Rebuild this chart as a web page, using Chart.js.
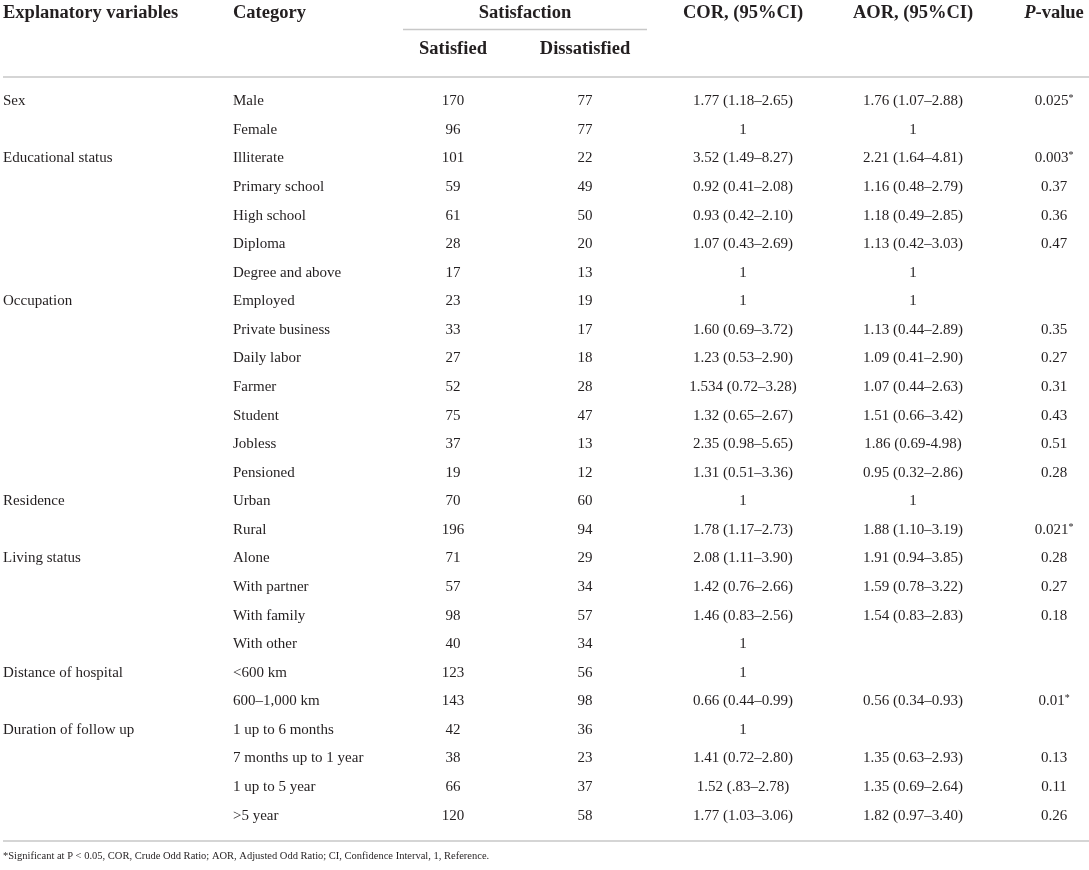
<!DOCTYPE html>
<html>
<head>
<meta charset="utf-8">
<script src="https://cdn.jsdelivr.net/npm/chart.js@4.4.0/dist/chart.umd.min.js"></script>
<style>
  html, body { margin: 0; padding: 0; background: #fff; }
  #wrap { width: 1089px; height: 870px; }
</style>
</head>
<body>
<div id="wrap"><canvas id="table"></canvas></div>
<script>
// table contents
const variableGroups = [
  ['Sex', 2],
  ['Educational status', 5],
  ['Occupation', 7],
  ['Residence', 2],
  ['Living status', 4],
  ['Distance of hospital', 2],
  ['Duration of follow up', 4]
];
const categories = [
  'Male', 'Female',
  'Illiterate', 'Primary school', 'High school', 'Diploma', 'Degree and above',
  'Employed', 'Private business', 'Daily labor', 'Farmer', 'Student', 'Jobless', 'Pensioned',
  'Urban', 'Rural',
  'Alone', 'With partner', 'With family', 'With other',
  '<600 km', '600\u20131,000 km',
  '1 up to 6 months', '7 months up to 1 year', '1 up to 5 year', '>5 year'
];
const satisfied = [170, 96, 101, 59, 61, 28, 17, 23, 33, 27, 52, 75, 37, 19, 70, 196, 71, 57, 98, 40, 123, 143, 42, 38, 66, 120];
const dissatisfied = [77, 77, 22, 49, 50, 20, 13, 19, 17, 18, 28, 47, 13, 12, 60, 94, 29, 34, 57, 34, 56, 98, 36, 23, 37, 58];
const cor = [
  '1.77 (1.18\u20132.65)', '1',
  '3.52 (1.49\u20138.27)', '0.92 (0.41\u20132.08)', '0.93 (0.42\u20132.10)', '1.07 (0.43\u20132.69)', '1',
  '1', '1.60 (0.69\u20133.72)', '1.23 (0.53\u20132.90)', '1.534 (0.72\u20133.28)', '1.32 (0.65\u20132.67)', '2.35 (0.98\u20135.65)', '1.31 (0.51\u20133.36)',
  '1', '1.78 (1.17\u20132.73)',
  '2.08 (1.11\u20133.90)', '1.42 (0.76\u20132.66)', '1.46 (0.83\u20132.56)', '1',
  '1', '0.66 (0.44\u20130.99)',
  '1', '1.41 (0.72\u20132.80)', '1.52 (.83\u20132.78)', '1.77 (1.03\u20133.06)'
];
const aor = [
  '1.76 (1.07\u20132.88)', '1',
  '2.21 (1.64\u20134.81)', '1.16 (0.48\u20132.79)', '1.18 (0.49\u20132.85)', '1.13 (0.42\u20133.03)', '1',
  '1', '1.13 (0.44\u20132.89)', '1.09 (0.41\u20132.90)', '1.07 (0.44\u20132.63)', '1.51 (0.66\u20133.42)', '1.86 (0.69-4.98)', '0.95 (0.32\u20132.86)',
  '1', '1.88 (1.10\u20133.19)',
  '1.91 (0.94\u20133.85)', '1.59 (0.78\u20133.22)', '1.54 (0.83\u20132.83)', '',
  '', '0.56 (0.34\u20130.93)',
  '', '1.35 (0.63\u20132.93)', '1.35 (0.69\u20132.64)', '1.82 (0.97\u20133.40)'
];
const pValues = [
  '0.025*', '',
  '0.003*', '0.37', '0.36', '0.47', '',
  '', '0.35', '0.27', '0.31', '0.43', '0.51', '0.28',
  '', '0.021*',
  '0.28', '0.27', '0.18', '',
  '', '0.01*',
  '', '0.13', '0.11', '0.26'
];
const footnote = '*Significant at P < 0.05, COR, Crude Odd Ratio; AOR, Adjusted Odd Ratio; CI, Confidence Interval, 1, Reference.';

// layout (x anchors in the linear x scale, 0..1089)
const SERIF = '"Liberation Serif", "DejaVu Serif", serif';
const INK = '#231f20';
const RULE = '#c8c8c8';
const BODY = '15px ' + SERIF;
const HEAD = 'bold 18.5px ' + SERIF;
const col = { variable: 3, category: 233, sat: 453, dis: 585, cor: 743, aor: 913, p: 1054 };

const variableLabels = [];
variableGroups.forEach(([name, n]) => {
  for (let i = 0; i < n; i++) variableLabels.push(i === 0 ? name : '');
});

function rowPoints(x) {
  return categories.map(c => ({ x: x, y: c }));
}

const columns = [
  { key: 'variable', text: variableLabels, align: 'left' },
  { key: 'category', text: categories, align: 'left' },
  { key: 'sat', text: satisfied.map(String), align: 'center' },
  { key: 'dis', text: dissatisfied.map(String), align: 'center' },
  { key: 'cor', text: cor, align: 'center' },
  { key: 'aor', text: aor, align: 'center' },
  { key: 'p', text: pValues, align: 'center' }
];

// draws the cell text at each point position given by the scales
const cellText = {
  id: 'cellText',
  afterDatasetsDraw(chart) {
    const ctx = chart.ctx;
    ctx.save();
    ctx.fillStyle = INK;
    ctx.textBaseline = 'middle';
    chart.data.datasets.forEach((ds, di) => {
      const meta = chart.getDatasetMeta(di);
      meta.data.forEach((pt, i) => {
        let s = ds.text[i];
        if (!s) return;
        ctx.font = BODY;
        ctx.textAlign = ds.align;
        if (s.endsWith('*')) {
          // significance star set as a small superscript
          s = s.slice(0, -1);
          const w = ctx.measureText(s).width;
          const x0 = pt.x - (w + 5) / 2;
          ctx.textAlign = 'left';
          ctx.fillText(s, x0, pt.y);
          ctx.font = '10px ' + SERIF;
          ctx.fillText('*', x0 + w, pt.y - 3);
        } else {
          ctx.fillText(s, pt.x, pt.y);
        }
      });
    });
    ctx.restore();
  }
};

// header, rules and footnote around the chart area
const frame = {
  id: 'frame',
  afterDraw(chart) {
    const ctx = chart.ctx;
    const x = chart.scales.x;
    const area = chart.chartArea;
    ctx.save();
    ctx.fillStyle = INK;
    ctx.textBaseline = 'middle';
    ctx.font = HEAD;
    ctx.textAlign = 'left';
    ctx.fillText('Explanatory variables', x.getPixelForValue(col.variable), 13);
    ctx.fillText('Category', x.getPixelForValue(col.category), 13);
    ctx.textAlign = 'center';
    ctx.fillText('Satisfaction', x.getPixelForValue(525), 13);
    ctx.fillText('Satisfied', x.getPixelForValue(col.sat), 49);
    ctx.fillText('Dissatisfied', x.getPixelForValue(col.dis), 49);
    ctx.fillText('COR, (95%CI)', x.getPixelForValue(col.cor), 13);
    ctx.fillText('AOR, (95%CI)', x.getPixelForValue(col.aor), 13);
    // P-value with italic P
    ctx.font = 'italic ' + HEAD;
    const wP = ctx.measureText('P').width;
    ctx.font = HEAD;
    const wRest = ctx.measureText('-value').width;
    const px = Math.min(x.getPixelForValue(col.p) - (wP + wRest) / 2, 1087 - wP - wRest);
    ctx.textAlign = 'left';
    ctx.font = 'italic ' + HEAD;
    ctx.fillText('P', px, 13);
    ctx.font = HEAD;
    ctx.fillText('-value', px + wP, 13);

    ctx.strokeStyle = RULE;
    ctx.lineWidth = 1.5;
    ctx.beginPath();
    ctx.moveTo(x.getPixelForValue(403), 29.5);
    ctx.lineTo(x.getPixelForValue(647), 29.5);
    ctx.moveTo(3, 77);
    ctx.lineTo(1089, 77);
    ctx.moveTo(3, area.bottom + 11);
    ctx.lineTo(1089, area.bottom + 11);
    ctx.stroke();

    ctx.font = '10.5px ' + SERIF;
    ctx.textAlign = 'left';
    ctx.fillText(footnote, 3, area.bottom + 26);
    ctx.restore();
  }
};

new Chart(document.getElementById('table'), {
  type: 'scatter',
  data: {
    datasets: columns.map(c => ({
      label: c.key,
      text: c.text,
      align: c.align,
      data: rowPoints(col[c.key]),
      pointRadius: 0,
      pointHoverRadius: 0,
      showLine: false
    }))
  },
  options: {
    responsive: true,
    maintainAspectRatio: false,
    animation: false,
    events: [],
    layout: { padding: { top: 87, bottom: 40, left: 0, right: 0 } },
    plugins: { legend: { display: false }, tooltip: { enabled: false } },
    scales: {
      x: { type: 'linear', min: 0, max: 1089, display: false },
      y: { type: 'category', labels: categories, offset: true, display: false }
    }
  },
  plugins: [cellText, frame]
});
</script>
</body>
</html>
